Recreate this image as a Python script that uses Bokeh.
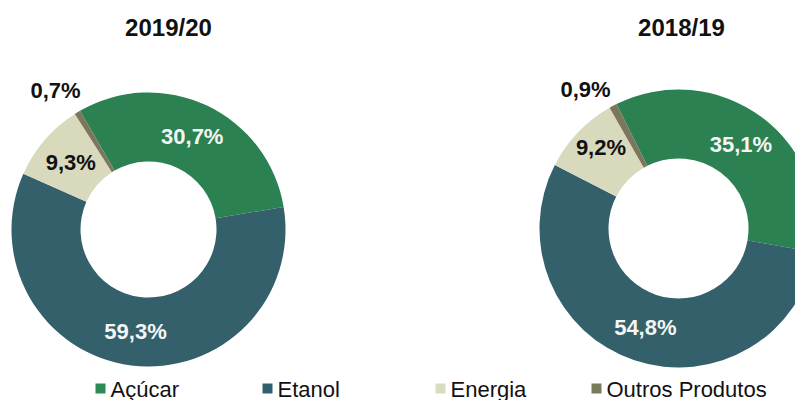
import math
from bokeh.plotting import figure
from bokeh.models import Range1d, ColumnDataSource
from bokeh.core.properties import value
from bokeh.embed import file_html
from bokeh.resources import INLINE

# ---- data ----
categories = ["Açúcar", "Etanol", "Energia", "Outros Produtos"]
titles = ["2019/20", "2018/19"]
share_2019_20 = [30.7, 59.3, 9.3, 0.7]
share_2018_19 = [35.1, 54.8, 9.2, 0.9]

# ---- style ----
colors = ["#2b8151", "#33606b", "#d9d9be", "#7b765c"]
legend_colors = ["#2c8a55", "#30606e", "#d8dcc0", "#7a7a5c"]
label_colors = ["#f4f6f4", "#f4f6f4", "#111111", "#111111"]
FONT = "Liberation Sans"
FIG_H = 400

def py(y):  # picture y (from top) -> data y
    return FIG_H - y

p = figure(width=795, height=400, output_backend="svg", toolbar_location=None,
           x_range=Range1d(0, 795), y_range=Range1d(0, 400), min_border=0)
p.axis.visible = False
p.grid.visible = False
p.outline_line_color = None
p.background_fill_color = "white"
p.border_fill_color = "white"

# donut layouts: centre, outer R, inner r, start angle clockwise from top (deg), title x
layouts = [
    dict(cx=148, cy=229, R=137, r=68, start=-30.0, tx=168, nudge=(0, 0)),
    dict(cx=678, cy=228, R=139, r=70, start=-26.5, tx=681, nudge=(-2, 9)),
]
series = [share_2019_20, share_2018_19]

for vals, lay, title in zip(series, layouts, titles):
    total = sum(vals)
    starts, ends, lx, ly, ltxt = [], [], [], [], []
    acc = lay["start"]
    for v in vals:
        a0 = acc
        a1 = acc + v / total * 360.0
        acc = a1
        starts.append(math.radians(90 - a0))
        ends.append(math.radians(90 - a1))
        mid = math.radians((a0 + a1) / 2)
        rm = (lay["R"] + lay["r"]) / 2
        lx.append(lay["cx"] + rm * math.sin(mid))
        ly.append(py(lay["cy"]) + rm * math.cos(mid))
        ltxt.append(("%.1f" % v).replace(".", ",") + "%")
    # Energia label nudge, tiny slice's label sits outside, above-left
    lx[2] += lay["nudge"][0]
    ly[2] += lay["nudge"][1]
    lx[3] = lay["cx"] - 93
    ly[3] = py(lay["cy"]) + 139
    src = ColumnDataSource(dict(start=starts, end=ends, color=colors,
                                x=[lay["cx"]] * 4, y=[py(lay["cy"])] * 4))
    p.annular_wedge(x="x", y="y", inner_radius=lay["r"], outer_radius=lay["R"],
                    inner_radius_units="screen", outer_radius_units="screen",
                    start_angle="start", end_angle="end", direction="clock",
                    fill_color="color", line_color=None, source=src)
    lsrc = ColumnDataSource(dict(x=lx, y=ly, t=ltxt, c=label_colors))
    p.text(x="x", y="y", text="t", text_color="c", source=lsrc,
           text_font=value(FONT), text_font_style="bold", text_font_size="22px",
           text_align="center", text_baseline="middle")
    p.text(x=[lay["tx"]], y=[py(26.5)], text=[title], text_color="#111111",
           text_font=value(FONT), text_font_style="bold", text_font_size="24px",
           text_align="center", text_baseline="middle")

# legend
leg_x = [100, 267, 440, 596]
leg_y = 388
msrc = ColumnDataSource(dict(x=leg_x, y=[py(leg_y)] * 4, c=legend_colors))
p.scatter(x="x", y="y", marker="square", size=10, fill_color="c", line_color=None, source=msrc)
tsrc = ColumnDataSource(dict(x=[v + 10 for v in leg_x], y=[py(leg_y + 0.5)] * 4, t=categories))
p.text(x="x", y="y", text="t", source=tsrc, text_color="#111111",
       text_font=value(FONT), text_font_size="22px",
       text_align="left", text_baseline="middle")

open("out.html", "w").write(file_html(p, INLINE))
